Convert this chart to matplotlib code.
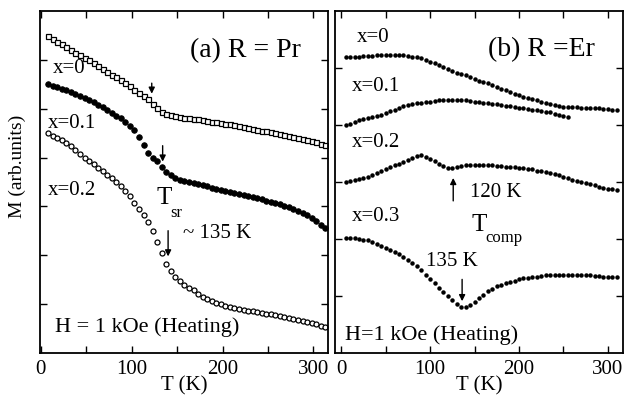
import matplotlib
matplotlib.use("Agg")
from matplotlib import pyplot as plt
from matplotlib.ticker import MultipleLocator

plt.rcParams['font.family'] = ['Liberation Serif', 'DejaVu Serif']

# ---- panel (a) R = Pr : temperature (K) and magnetization (arb. units)
T_a = [8, 13, 18, 23, 28, 33, 38, 43, 48, 53, 58, 63, 68, 73, 78, 83, 88, 93, 98, 103,
       108, 113, 118, 123, 128, 133, 138, 143, 148, 153, 158, 163, 168, 173, 178, 183,
       188, 193, 198, 203, 208, 213, 218, 223, 228, 233, 238, 243, 248, 253, 258, 263,
       268, 273, 278, 283, 288, 293, 298, 303, 308, 313]
Pr_x0 = [6.49, 6.43, 6.37, 6.32, 6.26, 6.21, 6.15, 6.10, 6.04, 5.99, 5.93, 5.88, 5.82,
         5.76, 5.70, 5.64, 5.58, 5.52, 5.46, 5.39, 5.33, 5.26, 5.19, 5.10, 5.01, 4.94,
         4.90, 4.87, 4.85, 4.83, 4.81, 4.80, 4.79, 4.78, 4.77, 4.75, 4.73, 4.72, 4.71,
         4.69, 4.68, 4.66, 4.64, 4.62, 4.60, 4.59, 4.57, 4.55, 4.54, 4.52, 4.50, 4.48,
         4.46, 4.44, 4.42, 4.40, 4.38, 4.36, 4.34, 4.31, 4.28, 4.25]
Pr_x01 = [5.50, 5.47, 5.44, 5.41, 5.38, 5.34, 5.30, 5.26, 5.22, 5.17, 5.13, 5.08, 5.03,
          4.98, 4.92, 4.86, 4.80, 4.73, 4.65, 4.56, 4.42, 4.25, 4.10, 4.00, 3.92, 3.80,
          3.70, 3.64, 3.59, 3.55, 3.52, 3.49, 3.47, 3.45, 3.43, 3.41, 3.38, 3.36, 3.34,
          3.32, 3.30, 3.28, 3.26, 3.24, 3.22, 3.20, 3.17, 3.15, 3.12, 3.10, 3.07, 3.04,
          3.01, 2.98, 2.95, 2.91, 2.87, 2.82, 2.76, 2.70, 2.63, 2.56]
Pr_x02 = [4.50, 4.45, 4.40, 4.35, 4.30, 4.23, 4.16, 4.08, 4.00, 3.93, 3.86, 3.79, 3.72,
          3.65, 3.58, 3.50, 3.42, 3.32, 3.22, 3.08, 2.95, 2.82, 2.68, 2.50, 2.28, 2.05,
          1.82, 1.67, 1.56, 1.47, 1.40, 1.34, 1.28, 1.21, 1.15, 1.10, 1.06, 1.03, 1.00,
          0.97, 0.94, 0.92, 0.90, 0.88, 0.86, 0.85, 0.83, 0.82, 0.80, 0.79, 0.77, 0.75,
          0.74, 0.72, 0.70, 0.68, 0.66, 0.64, 0.62, 0.59, 0.56, 0.53]

# ---- panel (b) R = Er
T_b = [5, 10, 15, 20, 25, 30, 35, 40, 45, 50, 55, 60, 65, 70, 75, 80, 85, 90, 95, 100,
       105, 110, 115, 120, 125, 130, 135, 140, 145, 150, 155, 160, 165, 170, 175, 180,
       185, 190, 195, 200, 205, 210, 215, 220, 225, 230, 235, 240, 245, 250, 255, 260,
       265, 270, 275, 280, 285, 290, 295, 300, 305, 310]
Er_x0 = [5.19, 5.20, 5.20, 5.20, 5.21, 5.21, 5.21, 5.22, 5.22, 5.22, 5.23, 5.23, 5.23,
         5.22, 5.21, 5.20, 5.19, 5.17, 5.14, 5.11, 5.08, 5.05, 5.02, 4.98, 4.95, 4.92,
         4.90, 4.87, 4.84, 4.81, 4.78, 4.75, 4.73, 4.70, 4.67, 4.64, 4.61, 4.58, 4.55,
         4.52, 4.50, 4.47, 4.45, 4.43, 4.41, 4.39, 4.37, 4.35, 4.34, 4.32, 4.31, 4.31,
         4.31, 4.30, 4.30, 4.30, 4.29, 4.29, 4.28, 4.28, 4.27, 4.26]
Er_x01 = [4.00, 4.02, 4.05, 4.08, 4.10, 4.12, 4.14, 4.16, 4.18, 4.21, 4.24, 4.27, 4.30,
          4.33, 4.35, 4.37, 4.38, 4.39, 4.40, 4.41, 4.42, 4.43, 4.43, 4.44, 4.44, 4.44,
          4.44, 4.43, 4.42, 4.41, 4.40, 4.39, 4.38, 4.37, 4.36, 4.35, 4.34, 4.33, 4.31,
          4.30, 4.29, 4.28, 4.27, 4.26, 4.25, 4.23, 4.22, 4.20, 4.18, 4.16, 4.14]
Er_x02 = [3.00, 3.01, 3.03, 3.05, 3.07, 3.09, 3.12, 3.16, 3.20, 3.23, 3.26, 3.29, 3.32,
          3.35, 3.38, 3.42, 3.46, 3.47, 3.44, 3.40, 3.36, 3.32, 3.28, 3.25, 3.24, 3.26,
          3.28, 3.29, 3.30, 3.30, 3.30, 3.30, 3.29, 3.29, 3.28, 3.28, 3.27, 3.26, 3.26,
          3.25, 3.24, 3.23, 3.22, 3.20, 3.19, 3.17, 3.16, 3.14, 3.12, 3.09, 3.07, 3.04,
          3.02, 3.00, 2.98, 2.96, 2.94, 2.92, 2.90, 2.88, 2.87, 2.86]
Er_x03 = [2.02, 2.02, 2.01, 2.00, 1.99, 1.98, 1.95, 1.92, 1.88, 1.85, 1.81, 1.77, 1.73,
          1.69, 1.64, 1.58, 1.52, 1.45, 1.37, 1.29, 1.22, 1.14, 1.07, 1.00, 0.93, 0.86,
          0.81, 0.81, 0.85, 0.90, 0.96, 1.02, 1.08, 1.13, 1.17, 1.20, 1.23, 1.25, 1.27,
          1.29, 1.31, 1.32, 1.33, 1.34, 1.35, 1.36, 1.37, 1.37, 1.37, 1.37, 1.37, 1.37,
          1.37, 1.37, 1.36, 1.36, 1.35, 1.35, 1.34, 1.34, 1.33, 1.33]

fig = plt.figure(figsize=(6.24, 3.95), dpi=100)
axa = fig.add_axes([40/624, 42/395, 288/624, 342/395])
axb = fig.add_axes([335/624, 42/395, 288/624, 342/395])

def style(ax, xlim, ylim, yt):
    ax.set_xlim(*xlim)
    ax.set_ylim(*ylim)
    ax.xaxis.set_major_locator(MultipleLocator(100))
    ax.xaxis.set_minor_locator(MultipleLocator(50))
    ax.set_yticks(yt)
    ax.set_yticklabels([])
    ax.tick_params(which='both', direction='in', top=True, right=True,
                   length=5, width=1, labelsize=15, pad=5)
    for s in ax.spines.values():
        s.set_linewidth(1.3)
    ax.set_xlabel('T (K)', fontsize=15, labelpad=-2)

style(axa, (-1, 316), (0, 7), [1, 2, 3, 4, 5, 6])
style(axb, (-7, 317), (0, 6), [1, 2, 3, 4, 5])

axa.plot(T_a, Pr_x0, ls='none', marker='s', ms=3.6, mfc='white', mec='black', mew=0.9)
axa.plot(T_a, Pr_x01, ls='none', marker='o', ms=4.0, mfc='black', mec='black', mew=0.6)
axa.plot(T_a, Pr_x02, ls='none', marker='o', ms=3.6, mfc='white', mec='black', mew=0.9)

for ys in (Er_x0, Er_x02, Er_x03):
    axb.plot(T_b, ys, ls='none', marker='o', ms=2.2, color='black')
axb.plot(T_b[:len(Er_x01)], Er_x01, ls='none', marker='o', ms=2.2, color='black')

arrow = dict(arrowstyle='-|>', color='black', lw=1.0, mutation_scale=9)
# panel (a) annotations
axa.text(164, 6.18, '(a) R = Pr', fontsize=20, va='center')
axa.text(13, 5.82, 'x=0', fontsize=15, va='center')
axa.text(8, 4.69, 'x=0.1', fontsize=15, va='center')
axa.text(8, 3.33, 'x=0.2', fontsize=15, va='center')
axa.annotate('', xy=(122, 5.25), xytext=(122, 5.58), arrowprops=arrow)
axa.annotate('', xy=(134, 3.86), xytext=(134, 4.3), arrowprops=arrow)
axa.annotate('', xy=(140, 1.92), xytext=(140, 2.56), arrowprops=arrow)
axa.text(127, 3.18, 'T', fontsize=18, va='center')
axa.text(142, 2.86, 'sr', fontsize=12, va='center')
axa.text(156, 2.45, '~ 135 K', fontsize=15, va='center')
axa.text(15, 0.53, 'H = 1 kOe (Heating)', fontsize=16, va='center')
axa.set_ylabel('M (arb.units)', fontsize=14)
axa.yaxis.set_label_coords(-0.05, 0.545)

# panel (b) annotations
axb.text(165, 5.32, '(b) R =Er', fontsize=20, va='center')
axb.text(17, 5.54, 'x=0', fontsize=15, va='center')
axb.text(12, 4.67, 'x=0.1', fontsize=15, va='center')
axb.text(12, 3.70, 'x=0.2', fontsize=15, va='center')
axb.text(12, 2.39, 'x=0.3', fontsize=15, va='center')
axb.annotate('', xy=(126, 3.12), xytext=(126, 2.62), arrowprops=arrow)
axb.text(145, 2.82, '120 K', fontsize=15, va='center')
axb.text(146, 2.25, 'T', fontsize=18, va='center')
axb.text(162, 2.02, 'comp', fontsize=12, va='center')
axb.text(95, 1.60, '135 K', fontsize=15, va='center')
axb.annotate('', xy=(136, 0.86), xytext=(136, 1.34), arrowprops=arrow)
axb.text(4, 0.32, 'H=1 kOe (Heating)', fontsize=16, va='center')

fig.savefig('out.png', dpi=100)
